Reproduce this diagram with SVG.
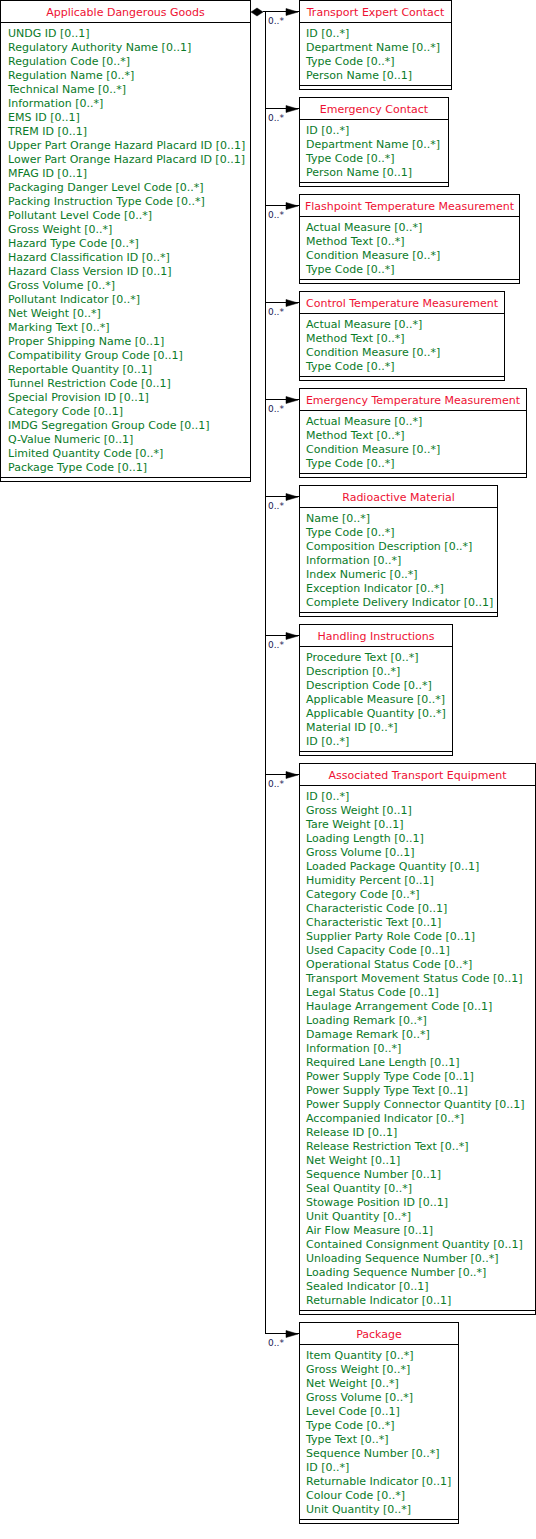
<svg xmlns="http://www.w3.org/2000/svg" width="536" height="1539" viewBox="0 0 536 1539">
<style>
.box{fill:#fff;stroke:#000;stroke-width:1}
.sep{stroke:#000;stroke-width:1}
.hd{font-family:"DejaVu Sans",Verdana,sans-serif;font-size:11px;fill:#ee1133;text-anchor:middle}
.at{font-family:"DejaVu Sans",Verdana,sans-serif;font-size:11px;fill:#0a7a28}
.ln{stroke:#000;stroke-width:1;fill:none}
.ah{fill:#000;stroke:#000;stroke-width:0.5}
.ml{font-family:"DejaVu Sans",Verdana,sans-serif;font-size:9px;fill:#1a1a55}
</style>
<rect width="536" height="1539" fill="#fff"/>
<g id="connectors">
<polygon class="ah" points="251,12 257,8 263,12 257,16"/>
<line class="ln" x1="263" y1="11.5" x2="299" y2="11.5"/>
<line class="ln" x1="265.5" y1="11.5" x2="265.5" y2="1333.5"/>
<line class="ln" x1="265" y1="108.5" x2="299" y2="108.5"/>
<line class="ln" x1="265" y1="205.5" x2="299" y2="205.5"/>
<line class="ln" x1="265" y1="302.5" x2="299" y2="302.5"/>
<line class="ln" x1="265" y1="399.5" x2="299" y2="399.5"/>
<line class="ln" x1="265" y1="496.5" x2="299" y2="496.5"/>
<line class="ln" x1="265" y1="635.5" x2="299" y2="635.5"/>
<line class="ln" x1="265" y1="774.5" x2="299" y2="774.5"/>
<line class="ln" x1="265" y1="1333.5" x2="299" y2="1333.5"/>
<polygon class="ah" points="286,8.5 298,12 286,15.5"/>
<polygon class="ah" points="286,105.5 298,109 286,112.5"/>
<polygon class="ah" points="286,202.5 298,206 286,209.5"/>
<polygon class="ah" points="286,299.5 298,303 286,306.5"/>
<polygon class="ah" points="286,396.5 298,400 286,403.5"/>
<polygon class="ah" points="286,493.5 298,497 286,500.5"/>
<polygon class="ah" points="286,632.5 298,636 286,639.5"/>
<polygon class="ah" points="286,771.5 298,775 286,778.5"/>
<polygon class="ah" points="286,1330.5 298,1334 286,1337.5"/>
<text class="ml" x="268" y="24">0..*</text>
<text class="ml" x="268" y="121">0..*</text>
<text class="ml" x="268" y="218">0..*</text>
<text class="ml" x="268" y="315">0..*</text>
<text class="ml" x="268" y="412">0..*</text>
<text class="ml" x="268" y="509">0..*</text>
<text class="ml" x="268" y="648">0..*</text>
<text class="ml" x="268" y="787">0..*</text>
<text class="ml" x="268" y="1346">0..*</text>
</g>
<g id="applicable-dangerous-goods">
<rect class="box" x="0.5" y="0.5" width="250" height="481"/>
<line class="sep" x1="0" y1="22.5" x2="251" y2="22.5"/>
<line class="sep" x1="0" y1="477.5" x2="251" y2="477.5"/>
<text class="hd" x="125.5" y="16">Applicable Dangerous Goods</text>
<text class="at" x="8" y="37">UNDG ID [0..1]</text>
<text class="at" x="8" y="51">Regulatory Authority Name [0..1]</text>
<text class="at" x="8" y="65">Regulation Code [0..*]</text>
<text class="at" x="8" y="79">Regulation Name [0..*]</text>
<text class="at" x="8" y="93">Technical Name [0..*]</text>
<text class="at" x="8" y="107">Information [0..*]</text>
<text class="at" x="8" y="121">EMS ID [0..1]</text>
<text class="at" x="8" y="135">TREM ID [0..1]</text>
<text class="at" x="8" y="149">Upper Part Orange Hazard Placard ID [0..1]</text>
<text class="at" x="8" y="163">Lower Part Orange Hazard Placard ID [0..1]</text>
<text class="at" x="8" y="177">MFAG ID [0..1]</text>
<text class="at" x="8" y="191">Packaging Danger Level Code [0..*]</text>
<text class="at" x="8" y="205">Packing Instruction Type Code [0..*]</text>
<text class="at" x="8" y="219">Pollutant Level Code [0..*]</text>
<text class="at" x="8" y="233">Gross Weight [0..*]</text>
<text class="at" x="8" y="247">Hazard Type Code [0..*]</text>
<text class="at" x="8" y="261">Hazard Classification ID [0..*]</text>
<text class="at" x="8" y="275">Hazard Class Version ID [0..1]</text>
<text class="at" x="8" y="289">Gross Volume [0..*]</text>
<text class="at" x="8" y="303">Pollutant Indicator [0..*]</text>
<text class="at" x="8" y="317">Net Weight [0..*]</text>
<text class="at" x="8" y="331">Marking Text [0..*]</text>
<text class="at" x="8" y="345">Proper Shipping Name [0..1]</text>
<text class="at" x="8" y="359">Compatibility Group Code [0..1]</text>
<text class="at" x="8" y="373">Reportable Quantity [0..1]</text>
<text class="at" x="8" y="387">Tunnel Restriction Code [0..1]</text>
<text class="at" x="8" y="401">Special Provision ID [0..1]</text>
<text class="at" x="8" y="415">Category Code [0..1]</text>
<text class="at" x="8" y="429">IMDG Segregation Group Code [0..1]</text>
<text class="at" x="8" y="443">Q-Value Numeric [0..1]</text>
<text class="at" x="8" y="457">Limited Quantity Code [0..*]</text>
<text class="at" x="8" y="471">Package Type Code [0..1]</text>
</g>
<g id="transport-expert-contact" transform="translate(299,0)">
<rect class="box" x="0.5" y="0.5" width="152" height="89"/>
<line class="sep" x1="0" y1="22.5" x2="153" y2="22.5"/>
<line class="sep" x1="0" y1="85.5" x2="153" y2="85.5"/>
<text class="hd" x="76.5" y="16">Transport Expert Contact</text>
<text class="at" x="7" y="37">ID [0..*]</text>
<text class="at" x="7" y="51">Department Name [0..*]</text>
<text class="at" x="7" y="65">Type Code [0..*]</text>
<text class="at" x="7" y="79">Person Name [0..1]</text>
</g>
<g id="emergency-contact" transform="translate(299,97)">
<rect class="box" x="0.5" y="0.5" width="149" height="89"/>
<line class="sep" x1="0" y1="22.5" x2="150" y2="22.5"/>
<line class="sep" x1="0" y1="85.5" x2="150" y2="85.5"/>
<text class="hd" x="75" y="16">Emergency Contact</text>
<text class="at" x="7" y="37">ID [0..*]</text>
<text class="at" x="7" y="51">Department Name [0..*]</text>
<text class="at" x="7" y="65">Type Code [0..*]</text>
<text class="at" x="7" y="79">Person Name [0..1]</text>
</g>
<g id="flashpoint-temperature-measurement" transform="translate(299,194)">
<rect class="box" x="0.5" y="0.5" width="220" height="89"/>
<line class="sep" x1="0" y1="22.5" x2="221" y2="22.5"/>
<line class="sep" x1="0" y1="85.5" x2="221" y2="85.5"/>
<text class="hd" x="110.5" y="16">Flashpoint Temperature Measurement</text>
<text class="at" x="7" y="37">Actual Measure [0..*]</text>
<text class="at" x="7" y="51">Method Text [0..*]</text>
<text class="at" x="7" y="65">Condition Measure [0..*]</text>
<text class="at" x="7" y="79">Type Code [0..*]</text>
</g>
<g id="control-temperature-measurement" transform="translate(299,291)">
<rect class="box" x="0.5" y="0.5" width="205" height="89"/>
<line class="sep" x1="0" y1="22.5" x2="206" y2="22.5"/>
<line class="sep" x1="0" y1="85.5" x2="206" y2="85.5"/>
<text class="hd" x="103" y="16">Control Temperature Measurement</text>
<text class="at" x="7" y="37">Actual Measure [0..*]</text>
<text class="at" x="7" y="51">Method Text [0..*]</text>
<text class="at" x="7" y="65">Condition Measure [0..*]</text>
<text class="at" x="7" y="79">Type Code [0..*]</text>
</g>
<g id="emergency-temperature-measurement" transform="translate(299,388)">
<rect class="box" x="0.5" y="0.5" width="227" height="89"/>
<line class="sep" x1="0" y1="22.5" x2="228" y2="22.5"/>
<line class="sep" x1="0" y1="85.5" x2="228" y2="85.5"/>
<text class="hd" x="114" y="16">Emergency Temperature Measurement</text>
<text class="at" x="7" y="37">Actual Measure [0..*]</text>
<text class="at" x="7" y="51">Method Text [0..*]</text>
<text class="at" x="7" y="65">Condition Measure [0..*]</text>
<text class="at" x="7" y="79">Type Code [0..*]</text>
</g>
<g id="radioactive-material" transform="translate(299,485)">
<rect class="box" x="0.5" y="0.5" width="198" height="131"/>
<line class="sep" x1="0" y1="22.5" x2="199" y2="22.5"/>
<line class="sep" x1="0" y1="127.5" x2="199" y2="127.5"/>
<text class="hd" x="99.5" y="16">Radioactive Material</text>
<text class="at" x="7" y="37">Name [0..*]</text>
<text class="at" x="7" y="51">Type Code [0..*]</text>
<text class="at" x="7" y="65">Composition Description [0..*]</text>
<text class="at" x="7" y="79">Information [0..*]</text>
<text class="at" x="7" y="93">Index Numeric [0..*]</text>
<text class="at" x="7" y="107">Exception Indicator [0..*]</text>
<text class="at" x="7" y="121">Complete Delivery Indicator [0..1]</text>
</g>
<g id="handling-instructions" transform="translate(299,624)">
<rect class="box" x="0.5" y="0.5" width="153" height="131"/>
<line class="sep" x1="0" y1="22.5" x2="154" y2="22.5"/>
<line class="sep" x1="0" y1="127.5" x2="154" y2="127.5"/>
<text class="hd" x="77" y="16">Handling Instructions</text>
<text class="at" x="7" y="37">Procedure Text [0..*]</text>
<text class="at" x="7" y="51">Description [0..*]</text>
<text class="at" x="7" y="65">Description Code [0..*]</text>
<text class="at" x="7" y="79">Applicable Measure [0..*]</text>
<text class="at" x="7" y="93">Applicable Quantity [0..*]</text>
<text class="at" x="7" y="107">Material ID [0..*]</text>
<text class="at" x="7" y="121">ID [0..*]</text>
</g>
<g id="associated-transport-equipment" transform="translate(299,763)">
<rect class="box" x="0.5" y="0.5" width="236" height="551"/>
<line class="sep" x1="0" y1="22.5" x2="237" y2="22.5"/>
<line class="sep" x1="0" y1="547.5" x2="237" y2="547.5"/>
<text class="hd" x="118.5" y="16">Associated Transport Equipment</text>
<text class="at" x="7" y="37">ID [0..*]</text>
<text class="at" x="7" y="51">Gross Weight [0..1]</text>
<text class="at" x="7" y="65">Tare Weight [0..1]</text>
<text class="at" x="7" y="79">Loading Length [0..1]</text>
<text class="at" x="7" y="93">Gross Volume [0..1]</text>
<text class="at" x="7" y="107">Loaded Package Quantity [0..1]</text>
<text class="at" x="7" y="121">Humidity Percent [0..1]</text>
<text class="at" x="7" y="135">Category Code [0..*]</text>
<text class="at" x="7" y="149">Characteristic Code [0..1]</text>
<text class="at" x="7" y="163">Characteristic Text [0..1]</text>
<text class="at" x="7" y="177">Supplier Party Role Code [0..1]</text>
<text class="at" x="7" y="191">Used Capacity Code [0..1]</text>
<text class="at" x="7" y="205">Operational Status Code [0..*]</text>
<text class="at" x="7" y="219">Transport Movement Status Code [0..1]</text>
<text class="at" x="7" y="233">Legal Status Code [0..1]</text>
<text class="at" x="7" y="247">Haulage Arrangement Code [0..1]</text>
<text class="at" x="7" y="261">Loading Remark [0..*]</text>
<text class="at" x="7" y="275">Damage Remark [0..*]</text>
<text class="at" x="7" y="289">Information [0..*]</text>
<text class="at" x="7" y="303">Required Lane Length [0..1]</text>
<text class="at" x="7" y="317">Power Supply Type Code [0..1]</text>
<text class="at" x="7" y="331">Power Supply Type Text [0..1]</text>
<text class="at" x="7" y="345">Power Supply Connector Quantity [0..1]</text>
<text class="at" x="7" y="359">Accompanied Indicator [0..*]</text>
<text class="at" x="7" y="373">Release ID [0..1]</text>
<text class="at" x="7" y="387">Release Restriction Text [0..*]</text>
<text class="at" x="7" y="401">Net Weight [0..1]</text>
<text class="at" x="7" y="415">Sequence Number [0..1]</text>
<text class="at" x="7" y="429">Seal Quantity [0..*]</text>
<text class="at" x="7" y="443">Stowage Position ID [0..1]</text>
<text class="at" x="7" y="457">Unit Quantity [0..*]</text>
<text class="at" x="7" y="471">Air Flow Measure [0..1]</text>
<text class="at" x="7" y="485">Contained Consignment Quantity [0..1]</text>
<text class="at" x="7" y="499">Unloading Sequence Number [0..*]</text>
<text class="at" x="7" y="513">Loading Sequence Number [0..*]</text>
<text class="at" x="7" y="527">Sealed Indicator [0..1]</text>
<text class="at" x="7" y="541">Returnable Indicator [0..1]</text>
</g>
<g id="package" transform="translate(299,1322)">
<rect class="box" x="0.5" y="0.5" width="159" height="201"/>
<line class="sep" x1="0" y1="22.5" x2="160" y2="22.5"/>
<line class="sep" x1="0" y1="197.5" x2="160" y2="197.5"/>
<text class="hd" x="80" y="16">Package</text>
<text class="at" x="7" y="37">Item Quantity [0..*]</text>
<text class="at" x="7" y="51">Gross Weight [0..*]</text>
<text class="at" x="7" y="65">Net Weight [0..*]</text>
<text class="at" x="7" y="79">Gross Volume [0..*]</text>
<text class="at" x="7" y="93">Level Code [0..1]</text>
<text class="at" x="7" y="107">Type Code [0..*]</text>
<text class="at" x="7" y="121">Type Text [0..*]</text>
<text class="at" x="7" y="135">Sequence Number [0..*]</text>
<text class="at" x="7" y="149">ID [0..*]</text>
<text class="at" x="7" y="163">Returnable Indicator [0..1]</text>
<text class="at" x="7" y="177">Colour Code [0..*]</text>
<text class="at" x="7" y="191">Unit Quantity [0..*]</text>
</g>
</svg>
